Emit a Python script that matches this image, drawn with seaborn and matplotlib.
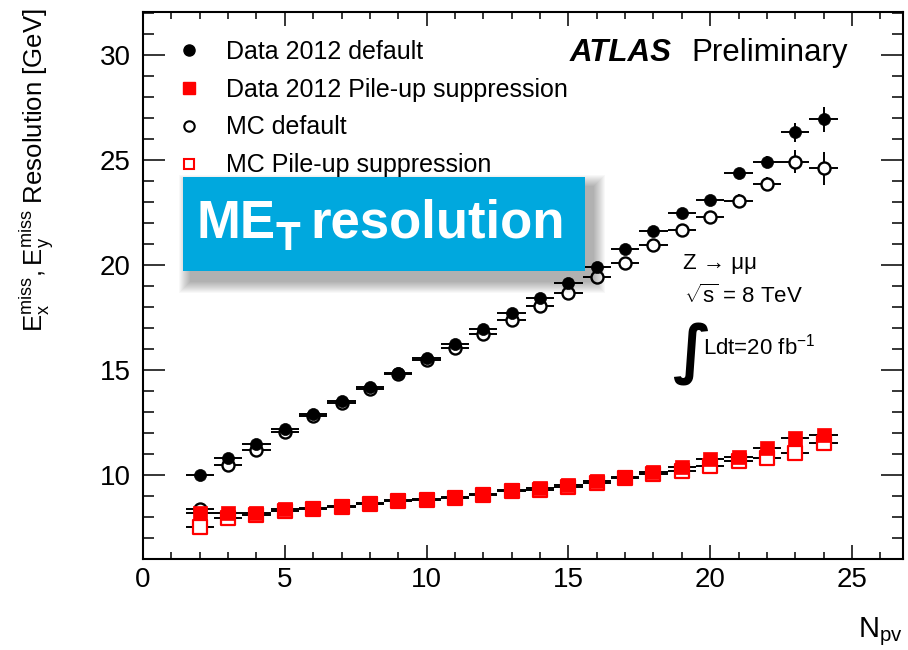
import numpy as np
import pandas as pd
import seaborn as sns
import matplotlib
matplotlib.use("Agg")
import matplotlib.pyplot as plt
from matplotlib.lines import Line2D
from matplotlib.patches import Rectangle

# Number of primary vertices (bin centres)
n_pv = list(range(2, 25))

data_default = [10.0, 10.79, 11.5, 12.17, 12.89, 13.52, 14.2, 14.87, 15.56, 16.24,
                16.94, 17.7, 18.41, 19.15, 19.92, 20.75, 21.63, 22.46, 23.1, 24.37,
                24.9, 26.32, 26.95]
data_default_err = [0.08, 0.08, 0.08, 0.08, 0.08, 0.08, 0.08, 0.08, 0.08, 0.1,
                    0.1, 0.1, 0.1, 0.12, 0.15, 0.15, 0.15, 0.2, 0.2, 0.25,
                    0.3, 0.45, 0.6]

data_pu = [8.2, 8.17, 8.2, 8.37, 8.45, 8.52, 8.68, 8.81, 8.86, 8.97,
           9.1, 9.29, 9.37, 9.54, 9.7, 9.92, 10.16, 10.4, 10.76, 10.87,
           11.27, 11.75, 11.9]
data_pu_err = [0.05] * 15 + [0.06, 0.07, 0.08, 0.1, 0.1, 0.12, 0.15, 0.2]

mc_default = [8.37, 10.48, 11.19, 12.05, 12.8, 13.42, 14.1, 14.8, 15.48, 16.03,
              16.71, 17.38, 18.05, 18.65, 19.44, 20.11, 20.95, 21.67, 22.3, 23.06,
              23.86, 24.92, 24.6]
mc_default_err = [0.15, 0.12, 0.1, 0.1, 0.1, 0.1, 0.1, 0.1, 0.1, 0.12,
                  0.12, 0.12, 0.15, 0.15, 0.15, 0.18, 0.2, 0.22, 0.25, 0.3,
                  0.35, 0.55, 0.8]

mc_pu = [7.54, 7.94, 8.1, 8.3, 8.4, 8.48, 8.62, 8.75, 8.8, 8.9,
         9.05, 9.22, 9.3, 9.45, 9.62, 9.85, 10.05, 10.2, 10.43, 10.67,
         10.79, 11.06, 11.54]
mc_pu_err = [0.08] * 15 + [0.08, 0.08, 0.1, 0.1, 0.12, 0.12, 0.15, 0.2]

labels = ["Data 2012 default", "Data 2012 Pile-up suppression",
          "MC default", "MC Pile-up suppression"]

x_ticks = [0, 5, 10, 15, 20, 25]
y_ticks = [10, 15, 20, 25, 30]

sns.set_theme(style="ticks")
plt.rcParams["font.family"] = ["Liberation Sans", "DejaVu Sans"]
plt.rcParams["text.color"] = "black"
plt.rcParams["axes.labelcolor"] = "black"
plt.rcParams["mathtext.fontset"] = "custom"
plt.rcParams["mathtext.rm"] = "Liberation Sans"
plt.rcParams["mathtext.it"] = "Liberation Sans:italic"
plt.rcParams["mathtext.bf"] = "Liberation Sans:bold"

W, H = 908, 650
fig = plt.figure(figsize=(W / 100, H / 100), dpi=100)
ax = fig.add_axes([0.1575, 0.14, 0.837, 0.8415])


def fx(px):
    return px / W


def fy(py):
    return 1 - py / H


frames = []
for name, vals, errs in [(labels[0], data_default, data_default_err),
                         (labels[1], data_pu, data_pu_err),
                         (labels[2], mc_default, mc_default_err),
                         (labels[3], mc_pu, mc_pu_err)]:
    frames.append(pd.DataFrame({"npv": n_pv, "res": vals, "err": errs, "series": name}))
df = pd.concat(frames, ignore_index=True)

draw_order = [labels[2], labels[3], labels[0], labels[1]]

# Error bars: +-0.5 in N_pv (bin width) and statistical error in resolution
for name in draw_order:
    sub = df[df["series"] == name]
    ax.errorbar(sub["npv"], sub["res"], xerr=0.5, yerr=sub["err"], fmt="none",
                ecolor="black", elinewidth=1.4, capsize=0, zorder=2)

styles = {
    labels[2]: dict(marker="o", s=75, facecolor="white", edgecolor="black", linewidth=1.7),
    labels[3]: dict(marker="s", s=90, facecolor="white", edgecolor="#ff0000", linewidth=1.6),
    labels[0]: dict(marker="o", s=75, facecolor="black", edgecolor="black", linewidth=0.5),
    labels[1]: dict(marker="s", s=100, facecolor="#ff0000", edgecolor="#ff0000", linewidth=0.5),
}
for i, name in enumerate(draw_order):
    sub = df[df["series"] == name]
    st = styles[name]
    sns.scatterplot(data=sub, x="npv", y="res", ax=ax, marker=st["marker"], s=st["s"],
                    color=st["facecolor"], edgecolor=st["edgecolor"],
                    linewidth=st["linewidth"], zorder=3 + i, legend=False)

ax.set_xlim(0, 26.8)
ax.set_ylim(6, 32.05)
ax.set_xticks(x_ticks)
ax.set_yticks(y_ticks)
ax.set_xticks(np.arange(1, 27, 1), minor=True)
ax.set_yticks(np.arange(7, 33, 1), minor=True)
ax.tick_params(axis="both", which="both", direction="in", top=True, right=True,
               labelsize=20, colors="black", width=1.1)
ax.tick_params(axis="x", which="major", length=10, pad=6)
ax.tick_params(axis="x", which="minor", length=5)
ax.tick_params(axis="y", which="major", length=16, pad=9)
ax.tick_params(axis="y", which="minor", length=8)
for sp in ax.spines.values():
    sp.set_linewidth(1.5)
    sp.set_color("black")
ax.set_xlabel("")
ax.set_ylabel("")

# Axis titles, ROOT style (aligned to the axis ends)
fig.text(fx(37), fy(8), r"$\mathregular{E_{x}^{miss},E_{y}^{miss}}$ Resolution [GeV]",
         rotation=90, ha="center", va="top", fontsize=18.5)
fig.text(fx(903), fy(637), r"N$_{\mathregular{pv}}$", ha="right", va="baseline",
         fontsize=21)

# Legend
handles = [
    Line2D([], [], ls="none", marker="o", ms=8, mfc="black", mec="black"),
    Line2D([], [], ls="none", marker="s", ms=8, mfc="#ff0000", mec="#ff0000"),
    Line2D([], [], ls="none", marker="o", ms=7.5, mfc="white", mec="black", mew=1.5),
    Line2D([], [], ls="none", marker="s", ms=7.5, mfc="white", mec="#ff0000", mew=1.5),
]
ax.legend(handles, labels, loc="upper left", bbox_to_anchor=(fx(176), fy(40)),
          bbox_transform=fig.transFigure, frameon=False, fontsize=18,
          handlelength=1.0, handletextpad=1.0, labelspacing=0.55, borderpad=0,
          borderaxespad=0)

# ATLAS label
fig.text(fx(570), fy(61), "ATLAS", fontsize=22.5, fontweight="bold",
         fontstyle="italic", ha="left", va="baseline")
fig.text(fx(691), fy(61), "Preliminary", fontsize=22.5, ha="left", va="baseline")

# Process / energy / luminosity annotation
fig.text(fx(683), fy(269), "Z \u2192 \u03bc\u03bc", fontsize=16, ha="left",
         va="baseline")
fig.text(fx(684), fy(303), r"$\sqrt{\mathregular{s}}$ = 8 TeV", fontsize=16,
         ha="left", va="baseline")
fig.text(fx(672), fy(372), "\u222b", fontsize=46, ha="left", va="baseline",
         family=["DejaVu Sans"], fontweight="bold")
fig.text(fx(703), fy(354), r"Ldt=20 fb$^{\mathregular{-1}}$", fontsize=16,
         ha="left", va="baseline")

# Title banner with a soft drop shadow
bx0, by0, bw, bh = fx(183), fy(271), (585 - 183) / W, 94 / H
for k in range(12, 0, -1):
    fig.patches.append(Rectangle((bx0 + fx(8) - fx(k), by0 - 10 / H - k / H),
                                 bw + 2 * k / W, bh + 2 * k / H,
                                 transform=fig.transFigure, facecolor="black",
                                 edgecolor="none", alpha=0.028, zorder=10))
fig.patches.append(Rectangle((bx0, by0), bw, bh, transform=fig.transFigure,
                             facecolor="#00a8de", edgecolor="none", zorder=11))

renderer = fig.canvas.get_renderer()
banner_style = dict(fontweight="bold", color="white", ha="left", va="baseline", zorder=12)
t1 = fig.text(fx(196), fy(238), "ME", fontsize=38, **banner_style)
x_after = t1.get_window_extent(renderer).x1
t2 = fig.text(x_after / W + fx(1), fy(250), "T", fontsize=29, **banner_style)
x_after = t2.get_window_extent(renderer).x1
fig.text(x_after / W + fx(10), fy(238), "resolution", fontsize=38, **banner_style)

fig.savefig("out.png", dpi=100)
